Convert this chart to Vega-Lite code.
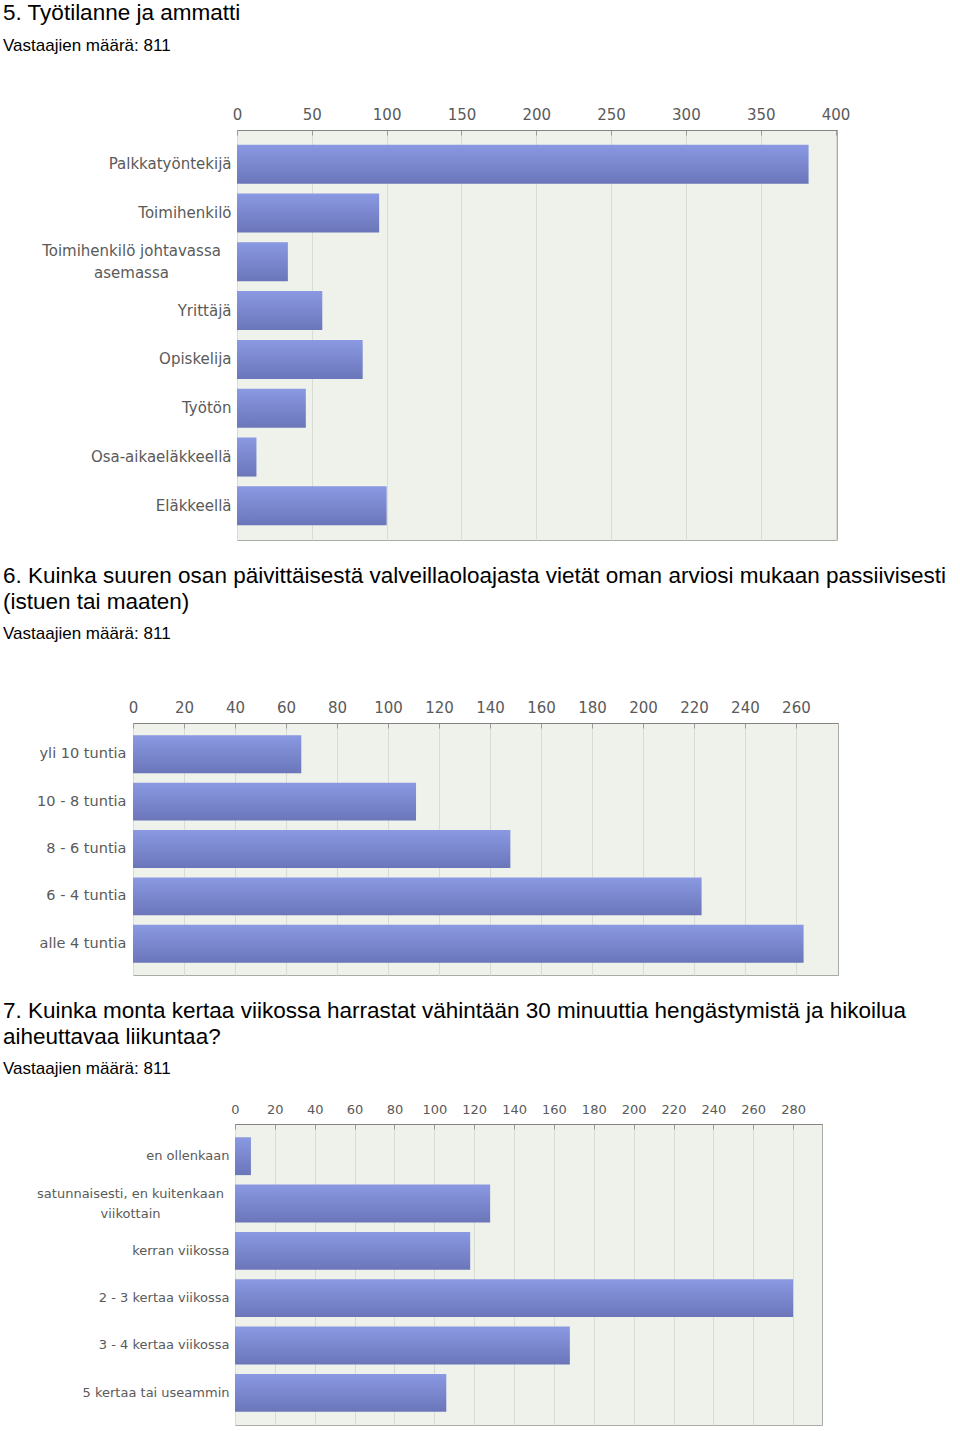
{
  "$schema": "https://vega.github.io/schema/vega-lite/v6.json",
  "padding": {"left": 3, "top": 2, "right": 0, "bottom": 0},
  "background": "white",
  "spacing": 23,
  "config": {
    "view": {"fill": "#eff1eb", "stroke": "#a9aba6", "strokeWidth": 1},
    "title": {"font": "Liberation Sans", "fontSize": 22.5, "fontWeight": "normal", "color": "#000000", "anchor": "start", "frame": "group", "subtitleFont": "Liberation Sans", "subtitleFontSize": 17, "subtitleColor": "#000000", "subtitlePadding": 13, "lineHeight": 26, "limit": 0},
    "axisX": {"orient": "top", "title": null, "labelFont": "DejaVu Sans", "labelColor": "#5a5a5a", "labelFlush": false, "labelOverlap": false, "domainColor": "#858585", "tickColor": "#9a9a9a", "tickSize": -5, "labelPadding": 13, "grid": true, "gridColor": "#d9dbd5"},
    "axisY": {"title": null, "ticks": false, "tickSize": 0, "domain": false, "grid": false, "labelFont": "DejaVu Sans", "labelColor": "#5a5a5a", "labelLimit": 400}
  },
  "vconcat": [
    {
      "title": {"text": "5. Työtilanne ja ammatti", "subtitle": "Vastaajien määrä: 811", "offset": 53},
      "spacing": 0,
      "hconcat": [
        {"width": 33, "height": 1, "data": {"values": []}, "mark": "point", "view": {"fill": null, "stroke": null}},
        {
          "width": 600,
          "height": 410,
          "data": {"values": [
            {"label": "Palkkatyöntekijä", "count": 382},
            {"label": "Toimihenkilö", "count": 95},
            {"label": "Toimihenkilö johtavassa asemassa", "count": 34},
            {"label": "Yrittäjä", "count": 57},
            {"label": "Opiskelija", "count": 84},
            {"label": "Työtön", "count": 46},
            {"label": "Osa-aikaeläkkeellä", "count": 13},
            {"label": "Eläkkeellä", "count": 100}
          ]},
          "mark": {"type": "bar", "color": {"gradient": "linear", "x1": 0, "y1": 0, "x2": 0, "y2": 1, "stops": [{"offset": 0, "color": "#8a99e2"}, {"offset": 1, "color": "#6b76ba"}]}},
          "encoding": {
            "y": {"field": "label", "type": "nominal", "sort": null, "scale": {"paddingInner": 0.2, "paddingOuter": 0.3},
              "axis": {"labelFontSize": 15, "labelLineHeight": 22, "minExtent": 200,
                "labelExpr": "datum.value == 'Toimihenkilö johtavassa asemassa' ? ['Toimihenkilö johtavassa', 'asemassa'] : datum.value",
                "labelAlign": {"condition": {"test": "datum.value == 'Toimihenkilö johtavassa asemassa'", "value": "center"}, "value": "right"},
                "labelOffset": {"condition": {"test": "datum.value == 'Toimihenkilö johtavassa asemassa'", "value": -11}, "value": 0},
                "labelPadding": {"condition": {"test": "datum.value == 'Toimihenkilö johtavassa asemassa'", "value": 106}, "value": 6}}},
            "x": {"field": "count", "type": "quantitative", "scale": {"domain": [0, 401], "nice": false},
              "axis": {"values": [0, 50, 100, 150, 200, 250, 300, 350, 400], "labelFontSize": 15}}
          }
        }
      ]
    },
    {
      "title": {"text": ["6. Kuinka suuren osan päivittäisestä valveillaoloajasta vietät oman arviosi mukaan passiivisesti", "(istuen tai maaten)"], "subtitle": "Vastaajien määrä: 811", "offset": 57.5},
      "spacing": 0,
      "hconcat": [
        {"width": 29, "height": 1, "data": {"values": []}, "mark": "point", "view": {"fill": null, "stroke": null}},
        {
          "width": 705,
          "height": 252,
          "data": {"values": [
            {"label": "yli 10 tuntia", "count": 66},
            {"label": "10 - 8 tuntia", "count": 111},
            {"label": "8 - 6 tuntia", "count": 148},
            {"label": "6 - 4 tuntia", "count": 223},
            {"label": "alle 4 tuntia", "count": 263}
          ]},
          "mark": {"type": "bar", "color": {"gradient": "linear", "x1": 0, "y1": 0, "x2": 0, "y2": 1, "stops": [{"offset": 0, "color": "#8a99e2"}, {"offset": 1, "color": "#6b76ba"}]}},
          "encoding": {
            "y": {"field": "label", "type": "nominal", "sort": null, "scale": {"paddingInner": 0.2, "paddingOuter": 0.26},
              "axis": {"labelFontSize": 14.5, "labelPadding": 7, "minExtent": 100}},
            "x": {"field": "count", "type": "quantitative", "scale": {"domain": [0, 276.5], "nice": false},
              "axis": {"values": [0, 20, 40, 60, 80, 100, 120, 140, 160, 180, 200, 220, 240, 260], "labelFontSize": 15}}
          }
        }
      ]
    },
    {
      "title": {"text": ["7. Kuinka monta kertaa viikossa harrastat vähintään 30 minuuttia hengästymistä ja hikoilua", "aiheuttavaa liikuntaa?"], "subtitle": "Vastaajien määrä: 811", "offset": 25.5},
      "spacing": 0,
      "hconcat": [
        {"width": 31, "height": 1, "data": {"values": []}, "mark": "point", "view": {"fill": null, "stroke": null}},
        {
          "width": 587,
          "height": 301,
          "data": {"values": [
            {"label": "en ollenkaan", "count": 8},
            {"label": "satunnaisesti, en kuitenkaan viikottain", "count": 128},
            {"label": "kerran viikossa", "count": 118},
            {"label": "2 - 3 kertaa viikossa", "count": 280},
            {"label": "3 - 4 kertaa viikossa", "count": 168},
            {"label": "5 kertaa tai useammin", "count": 106}
          ]},
          "mark": {"type": "bar", "color": {"gradient": "linear", "x1": 0, "y1": 0, "x2": 0, "y2": 1, "stops": [{"offset": 0, "color": "#8a99e2"}, {"offset": 1, "color": "#6b76ba"}]}},
          "encoding": {
            "y": {"field": "label", "type": "nominal", "sort": null, "scale": {"paddingInner": 0.2, "paddingOuter": 0.28},
              "axis": {"labelFontSize": 13, "labelLineHeight": 20, "minExtent": 200,
                "labelExpr": "datum.value == 'satunnaisesti, en kuitenkaan viikottain' ? ['satunnaisesti, en kuitenkaan', 'viikottain'] : datum.value",
                "labelAlign": {"condition": {"test": "datum.value == 'satunnaisesti, en kuitenkaan viikottain'", "value": "center"}, "value": "right"},
                "labelOffset": {"condition": {"test": "datum.value == 'satunnaisesti, en kuitenkaan viikottain'", "value": -10}, "value": 0},
                "labelPadding": {"condition": {"test": "datum.value == 'satunnaisesti, en kuitenkaan viikottain'", "value": 105}, "value": 6}}},
            "x": {"field": "count", "type": "quantitative", "scale": {"domain": [0, 294.5], "nice": false},
              "axis": {"values": [0, 20, 40, 60, 80, 100, 120, 140, 160, 180, 200, 220, 240, 260, 280], "labelFontSize": 13}}
          }
        }
      ]
    }
  ]
}
